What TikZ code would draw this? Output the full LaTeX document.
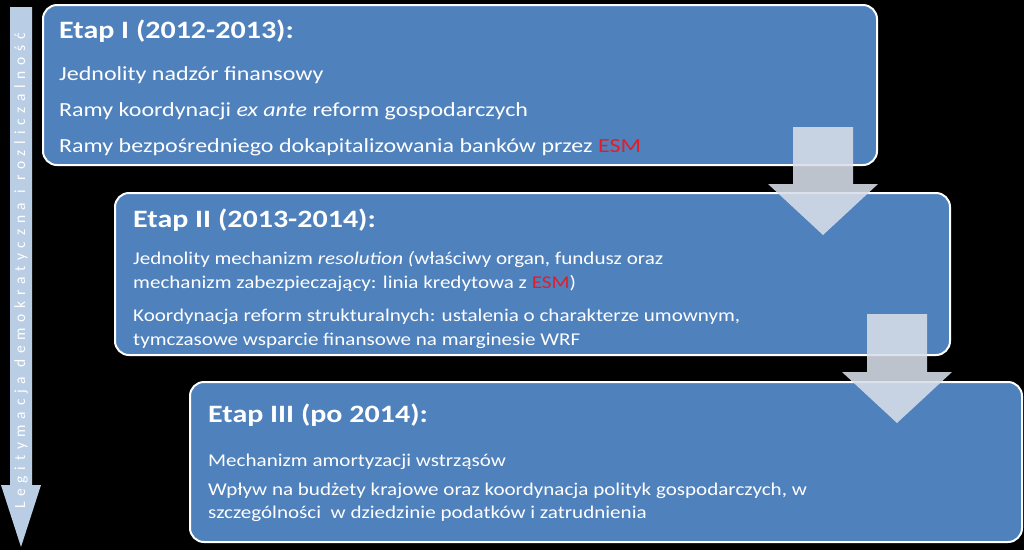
\documentclass[tikz,border=0pt]{standalone}
\usepackage{fontspec}
\setmainfont{Carlito}
\definecolor{boxblue}{RGB}{79,129,189}
\definecolor{arrowfill}{RGB}{216,222,233}
\definecolor{sidearrow}{RGB}{185,205,229}
\definecolor{esmred}{RGB}{228,28,40}
\begin{document}
\begin{tikzpicture}[x=1pt,y=-1pt,
  stage/.style={draw=white,line width=2pt,fill=boxblue,rounded corners=14pt,inner sep=0pt},
  title/.style={anchor=base west,inner sep=0pt,text=white,font=\fontsize{25}{30}\selectfont\bfseries\addfontfeature{FakeStretch=1.2}},
  bodyA/.style={anchor=base west,inner sep=0pt,text=white,font=\fontsize{20}{24}\selectfont\addfontfeature{FakeStretch=1.2}},
  bodyB/.style={anchor=base west,inner sep=0pt,text=white,font=\fontsize{18}{20}\selectfont\addfontfeature{FakeStretch=1.17}},
  blockarrow/.style={fill=arrowfill,fill opacity=0.88},
  sidetext/.style={inner sep=0pt,text=white,rotate=90,font=\fontsize{15.5}{17}\selectfont\addfontfeature{LetterSpace=37}}
]
\fill[black] (0,0) rectangle (1024,550);
\useasboundingbox (0,0) rectangle (1024,550);

% left arrow
\fill[sidearrow] (10,7) -- (32,7) -- (32,485) -- (41,485) -- (21,547) -- (1,485) -- (10,485) -- cycle;
\node[sidetext] (side) at (21,271) {Legitymacja demokratyczna i rozliczalność};

% boxes
\node[stage,minimum width=834pt,minimum height=160pt] (b1) at (460,85) {};
\node[stage,minimum width=835pt,minimum height=162pt] (b2) at (532.5,274) {};
\fill[blockarrow] (793,127) -- (853,127) -- (853,184) -- (878,184) -- (823,235) -- (768,184) -- (793,184) -- cycle;
\node[stage,minimum width=832pt,minimum height=160pt] (b3) at (606,462) {};
\fill[blockarrow] (867,314) -- (927,314) -- (927,372) -- (952,372) -- (897,423) -- (842,372) -- (867,372) -- cycle;

% box 1 text
\node[title] (t1) at (59,38) {Etap I (2012-2013):};
\node[bodyA] (t1a) at (59,80) {Jednolity nadzór finansowy};
\node[bodyA] (t1b) at (59,116) {Ramy koordynacji \textit{ex ante} reform gospodarczych};
\node[bodyA] (t1c) at (59,152) {Ramy bezpośredniego dokapitalizowania banków przez \textcolor{esmred}{ESM}};

% box 2 text
\node[title] (t2) at (133,227) {Etap II (2013-2014):};
\node[bodyB] (t2a) at (133,264.5) {Jednolity mechanizm \textit{resolution (}właściwy organ, fundusz oraz};
\node[bodyB] (t2b) at (133,288) {mechanizm zabezpieczający: linia kredytowa z \textcolor{esmred}{ESM})};
\node[bodyB] (t2c) at (133,321) {Koordynacja reform strukturalnych: ustalenia o charakterze umownym,};
\node[bodyB] (t2d) at (133,345) {tymczasowe wsparcie finansowe na marginesie WRF};

% box 3 text
\node[title] (t3) at (208,422) {Etap III (po 2014):};
\node[bodyB] (t3a) at (208,466) {Mechanizm amortyzacji wstrząsów};
\node[bodyB] (t3b) at (208,495) {Wpływ na budżety krajowe oraz koordynacja polityk gospodarczych, w};
\node[bodyB] (t3c) at (208,518.5) {szczególności~ w dziedzinie podatków i zatrudnienia};
\end{tikzpicture}
\end{document}
